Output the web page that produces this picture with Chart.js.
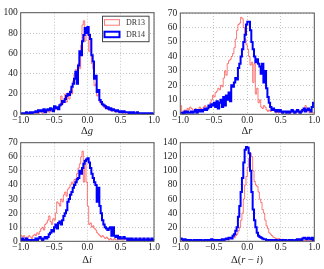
<!DOCTYPE html>
<html>
<head>
<meta charset="utf-8">
<script src="https://cdn.jsdelivr.net/npm/chart.js@4.4.0/dist/chart.umd.min.js"></script>
<style>
  body { margin: 0; background: #fff; width: 324px; height: 269px; overflow: hidden; position: relative; font-family: "Liberation Serif", serif; }
  canvas { position: absolute; }
  .xt { position: absolute; width: 100px; text-align: center; font-size: 10.5px; line-height: 10px; color: #222; }
</style>
</head>
<body>
<canvas id="pg" width="162" height="134" style="left:0;top:0"></canvas>
<canvas id="pr" width="162" height="134" style="left:162px;top:0"></canvas>
<canvas id="pi" width="162" height="135" style="left:0;top:134px"></canvas>
<canvas id="pri" width="162" height="135" style="left:162px;top:134px"></canvas>
<div class="xt" style="left:37px;top:126px">Δ<i>g</i></div>
<div class="xt" style="left:197px;top:126px">Δ<i>r</i></div>
<div class="xt" style="left:37px;top:255px">Δ<i>i</i></div>
<div class="xt" style="left:197px;top:255px">Δ(<i>r</i> − <i>i</i>)</div>
<script>
// 100 bins from -1 to 1 (width 0.02)
const binEdges = Array.from({ length: 101 }, (_, i) => -1 + i * 0.02);
const xTicks = [-1.0, -0.5, 0.0, 0.5, 1.0];
const seriesNames = ['DR13', 'DR14'];

// Δg
const gDR13 = [
  0, 0, 1, 0, 0, 1, 0, 0, 1, 1,
  0, 2, 1, 1, 3, 2, 1, 3, 2, 2,
  3, 2, 4, 3, 5, 4, 6, 5, 7, 8,
  18, 10, 14, 20, 12, 21, 15, 24, 20, 33,
  40, 44, 33, 50, 45, 68, 88, 92, 72, 78,
  80, 62, 74, 50, 45, 28, 30, 18, 20, 12,
  10, 9, 7, 6, 8, 5, 4, 5, 3, 4,
  3, 2, 3, 2, 2, 3, 1, 2, 1, 2,
  1, 2, 1, 1, 2, 1, 0, 1, 1, 0,
  1, 0, 1, 0, 1, 0, 0, 1, 0, 0
];
const gDR14 = [
  1, 0, 1, 1, 2, 1, 1, 2, 1, 2,
  2, 3, 2, 4, 3, 4, 3, 5, 2, 4,
  5, 4, 6, 5, 3, 8, 6, 7, 5, 9,
  10, 13, 12, 15, 18, 20, 19, 22, 27, 30,
  35, 42, 30, 48, 62, 58, 72, 78, 85, 80,
  86, 78, 74, 58, 52, 35, 38, 22, 24, 14,
  12, 10, 9, 8, 6, 7, 5, 6, 4, 5,
  4, 3, 4, 3, 2, 3, 2, 3, 2, 2,
  2, 1, 2, 1, 2, 1, 1, 2, 1, 1,
  1, 1, 0, 1, 1, 0, 1, 0, 1, 0
];

// Δr
const rDR13 = [
  6, 2, 1, 3, 2, 4, 3, 5, 4, 3,
  3, 4, 2, 3, 5, 4, 3, 5, 6, 5,
  5, 6, 8, 10, 13, 12, 15, 16, 18, 17,
  20, 19, 25, 30, 27, 35, 37, 38, 40, 42,
  46, 52, 58, 62, 63, 67, 66, 60, 52, 48,
  45, 40, 34, 36, 22, 35, 14, 18, 8, 10,
  5, 4, 6, 5, 3, 2, 3, 2, 3, 3,
  2, 1, 2, 1, 2, 1, 1, 2, 1, 1,
  2, 1, 1, 3, 1, 2, 1, 2, 1, 1,
  3, 2, 4, 6, 3, 2, 1, 2, 1, 1
];
const rDR14 = [
  1, 1, 0, 2, 1, 2, 1, 1, 2, 1,
  2, 3, 1, 3, 2, 3, 2, 3, 4, 3,
  4, 6, 5, 7, 6, 8, 5, 9, 4, 8,
  10, 5, 12, 6, 13, 10, 15, 9, 20, 19,
  22, 25, 24, 32, 35, 40, 45, 50, 55, 62,
  64, 64, 58, 50, 45, 40, 36, 38, 35, 33,
  28, 35, 22, 30, 18, 12, 8, 5, 3, 4,
  3, 2, 3, 2, 3, 2, 1, 2, 2, 1,
  2, 1, 2, 3, 2, 1, 2, 3, 2, 1,
  2, 3, 4, 2, 3, 4, 3, 2, 5, 8
];

// Δi
const iDR13 = [
  4, 3, 4, 2, 3, 3, 4, 3, 2, 4,
  5, 4, 6, 5, 7, 9, 10, 8, 12, 13,
  15, 18, 14, 12, 16, 15, 20, 28, 27, 25,
  30, 28, 33, 35, 32, 37, 38, 40, 42, 41,
  44, 42, 48, 52, 55, 60, 64, 42, 58, 42,
  25, 12, 13, 10, 11, 9, 8, 6, 5, 4,
  3, 4, 3, 2, 3, 2, 1, 2, 1, 1,
  2, 1, 1, 1, 2, 1, 1, 1, 2, 1,
  1, 2, 1, 2, 1, 2, 1, 1, 2, 1,
  1, 2, 1, 1, 2, 1, 2, 1, 1, 1
];
const iDR14 = [
  1, 2, 1, 1, 2, 1, 1, 0, 1, 1,
  1, 2, 1, 2, 3, 2, 1, 2, 3, 2,
  3, 5, 6, 8, 7, 10, 12, 9, 13, 14,
  12, 15, 18, 20, 22, 28, 30, 33, 35, 38,
  40, 42, 44, 45, 50, 48, 52, 55, 57, 58,
  59, 56, 52, 48, 45, 42, 40, 28, 38, 25,
  20, 15, 12, 10, 9, 8, 9, 10, 4, 10,
  4, 3, 4, 2, 3, 2, 2, 3, 2, 2,
  1, 2, 1, 2, 1, 1, 2, 1, 1, 2,
  1, 1, 2, 1, 1, 2, 1, 1, 2, 1
];

// Δ(r − i)
const riDR13 = [
  1, 2, 1, 1, 2, 1, 0, 1, 1, 1,
  1, 1, 2, 1, 1, 2, 1, 1, 1, 2,
  1, 2, 1, 3, 2, 3, 2, 1, 2, 1,
  1, 2, 2, 3, 2, 3, 2, 4, 5, 6,
  5, 8, 10, 15, 20, 30, 40, 60, 80, 92,
  105, 118, 125, 120, 100, 85, 80, 78, 70, 60,
  55, 45, 40, 30, 22, 18, 12, 10, 8, 6,
  5, 4, 3, 4, 3, 2, 3, 2, 2, 1,
  2, 1, 2, 1, 1, 2, 1, 2, 1, 1,
  1, 2, 1, 2, 1, 1, 2, 1, 2, 1
];
const riDR14 = [
  4, 3, 2, 3, 2, 2, 1, 2, 1, 1,
  2, 1, 2, 1, 2, 2, 1, 1, 2, 1,
  2, 1, 2, 3, 2, 1, 2, 1, 2, 1,
  2, 3, 2, 3, 4, 3, 5, 5, 4, 8,
  10, 15, 20, 35, 50, 70, 90, 112, 130, 134,
  133, 125, 100, 70, 45, 30, 20, 12, 8, 6,
  5, 4, 3, 3, 2, 2, 1, 2, 1, 2,
  1, 2, 1, 1, 2, 1, 2, 1, 2, 1,
  1, 2, 1, 2, 1, 1, 2, 3, 2, 3,
  2, 4, 5, 4, 3, 5, 4, 3, 5, 2
];

const RED = 'rgba(255, 40, 40, 0.62)';
const BLUE = '#0000ff';
const TICK_FONT = { family: '"Liberation Serif", serif', size: 9.5 };

function toSteps(counts) {
  const pts = counts.map((c, i) => ({ x: binEdges[i], y: c }));
  pts.push({ x: binEdges[counts.length], y: counts[counts.length - 1] });
  return pts;
}

function fmt(v) {
  return v.toFixed(1).replace('-', '\u2212');
}

const framePlugin = {
  id: 'frame',
  afterDatasetsDraw(chart) {
    const { ctx, chartArea: a } = chart;
    ctx.save();
    ctx.strokeStyle = '#555';
    ctx.lineWidth = 1;
    ctx.strokeRect(a.left, a.top, a.right - a.left, a.bottom - a.top);
    ctx.restore();
  }
};

// matplotlib-style legend box inside the first panel
const boxLegend = {
  id: 'boxLegend',
  afterDraw(chart) {
    const { ctx, chartArea: a } = chart;
    const x0 = a.right - 52, y0 = a.top + 3;
    ctx.save();
    ctx.fillStyle = '#fff';
    ctx.fillRect(x0, y0, 47, 26);
    ctx.strokeStyle = '#444';
    ctx.lineWidth = 1;
    ctx.strokeRect(x0 + 0.5, y0 + 0.5, 46.5, 25.5);
    const rows = [[RED, 1, seriesNames[0]], [BLUE, 2, seriesNames[1]]];
    rows.forEach(([col, w, label], k) => {
      const yy = y0 + 4 + k * 12;
      ctx.strokeStyle = col;
      ctx.lineWidth = w;
      ctx.strokeRect(x0 + 2.5, yy, 15, 5.5);
      ctx.fillStyle = '#333';
      ctx.font = '8px "Liberation Serif", serif';
      ctx.textBaseline = 'middle';
      ctx.fillText(label, x0 + 24, yy + 3);
    });
    ctx.restore();
  }
};

function makePanel(id, red, blue, yMax, yStep, pad, yWidth, xHeight, legend) {
  new Chart(document.getElementById(id), {
    type: 'line',
    data: {
      datasets: [
        { label: seriesNames[0], data: toSteps(red), borderColor: RED, borderWidth: 1, stepped: true, pointRadius: 0, fill: false, order: 1 },
        { label: seriesNames[1], data: toSteps(blue), borderColor: BLUE, borderWidth: 2, stepped: true, pointRadius: 0, fill: false, order: 0 }
      ]
    },
    options: {
      responsive: false,
      animation: false,
      devicePixelRatio: 1,
      layout: { padding: pad },
      plugins: { legend: { display: false }, tooltip: { enabled: false } },
      scales: {
        x: {
          type: 'linear', min: -1, max: 1,
          afterBuildTicks: s => { s.ticks = xTicks.map(v => ({ value: v })); },
          afterFit: s => { s.height = xHeight; },
          ticks: { callback: v => fmt(v), color: '#222', font: TICK_FONT, padding: 0, maxRotation: 0, autoSkip: false },
          grid: { color: '#c4c4c4', drawTicks: false },
          border: { display: false, dash: [1, 2] }
        },
        y: {
          min: 0, max: yMax,
          afterFit: s => { s.width = yWidth; },
          ticks: { stepSize: yStep, color: '#222', font: TICK_FONT, padding: 3, autoSkip: false },
          grid: { color: '#c4c4c4', drawTicks: false },
          border: { display: false, dash: [1, 2] }
        }
      }
    },
    plugins: legend ? [framePlugin, boxLegend] : [framePlugin]
  });
}

makePanel('pg', gDR13, gDR14, 100, 20, { left: 0, top: 12.7, right: 8, bottom: 0 }, 20.7, 19.7, true);
makePanel('pr', rDR13, rDR14, 70, 10, { left: 0, top: 13, right: 9.7, bottom: 0 }, 18.3, 19.7, false);
makePanel('pi', iDR13, iDR14, 70, 10, { left: 0, top: 6, right: 8, bottom: 0 }, 20.7, 27.7, false);
makePanel('pri', riDR13, riDR14, 140, 20, { left: 0, top: 6, right: 9.7, bottom: 0 }, 18.3, 27.7, false);
</script>
</body>
</html>
